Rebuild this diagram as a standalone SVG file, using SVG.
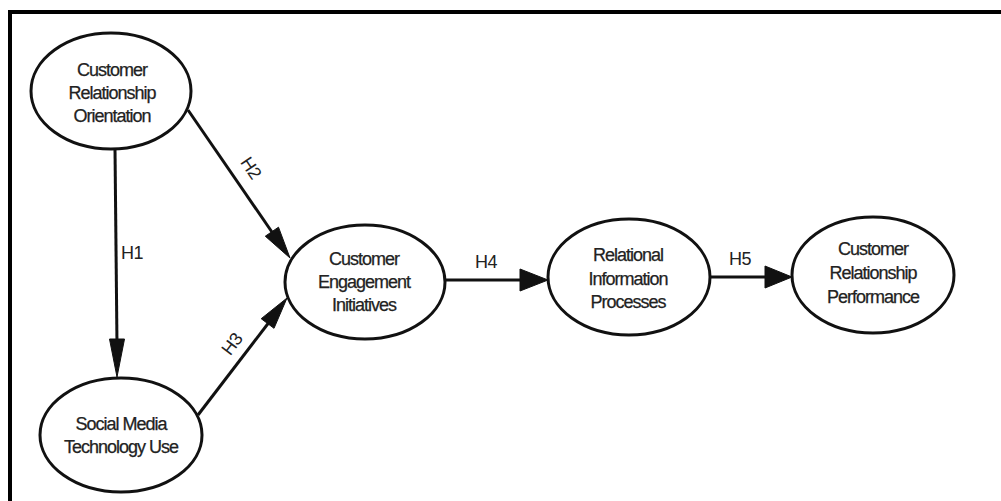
<svg xmlns="http://www.w3.org/2000/svg" width="1001" height="501" viewBox="0 0 1001 501">
  <style>
    .frame { fill: none; stroke: #000; stroke-width: 4; }
    .node ellipse { fill: #fff; stroke: #111; stroke-width: 3; }
    .node text { font-family: "Liberation Sans", Arial, sans-serif; font-size: 18px; letter-spacing: -1px; fill: #222; stroke: #222; stroke-width: 0.25; text-anchor: middle; }
    .edge line { stroke: #111; stroke-width: 3; }
    .edge polygon { fill: #111; stroke: #111; stroke-width: 1; stroke-linejoin: round; }
    .label { font-family: "Liberation Sans", Arial, sans-serif; font-size: 18px; letter-spacing: -0.5px; fill: #222; text-anchor: middle; }
  </style>

  <rect width="1001" height="501" fill="#fff"/>
  <!-- outer frame: top and left edges only -->
  <path class="frame" d="M10 501 V12 H1001"/>

  <!-- connectors -->
  <g id="connectors">
    <g id="e-h1" class="edge">
      <line x1="115" y1="149" x2="117" y2="345"/>
      <polygon points="117,377 109.5,339 124.5,339"/>
      <text class="label" x="132" y="259">H1</text>
    </g>
    <g id="e-h2" class="edge">
      <line x1="188" y1="110" x2="274" y2="235"/>
      <polygon points="290,258 265.3,236.2 278.5,227.2"/>
      <text class="label" transform="translate(251,168) rotate(56)" y="6">H2</text>
    </g>
    <g id="e-h3" class="edge">
      <line x1="198" y1="415" x2="270" y2="321"/>
      <polygon points="287,298 274,328.3 261.2,318.7"/>
      <text class="label" transform="translate(232,344) rotate(-53)" y="6">H3</text>
    </g>
    <g id="e-h4" class="edge">
      <line x1="446" y1="280" x2="524" y2="280"/>
      <polygon points="548,280 520,269 520,291"/>
      <text class="label" x="486" y="268">H4</text>
    </g>
    <g id="e-h5" class="edge">
      <line x1="710" y1="277" x2="768" y2="277"/>
      <polygon points="792,277 765,266 765,288"/>
      <text class="label" x="740" y="265">H5</text>
    </g>
  </g>

  <!-- nodes -->
  <g id="n-orientation" class="node">
    <ellipse cx="111" cy="91" rx="80" ry="58"/>
    <text x="112" y="76">Customer</text>
    <text x="112" y="99">Relationship</text>
    <text x="112" y="122">Orientation</text>
  </g>
  <g id="n-social" class="node">
    <ellipse cx="121" cy="435" rx="81" ry="57"/>
    <text x="121" y="430">Social Media</text>
    <text x="121" y="453">Technology Use</text>
  </g>
  <g id="n-engagement" class="node">
    <ellipse cx="365" cy="282" rx="80" ry="57"/>
    <text x="364" y="265">Customer</text>
    <text x="364" y="288">Engagement</text>
    <text x="364" y="311">Initiatives</text>
  </g>
  <g id="n-relational" class="node">
    <ellipse cx="629" cy="277" rx="81" ry="58"/>
    <text x="628" y="261">Relational</text>
    <text x="628" y="285">Information</text>
    <text x="628" y="308">Processes</text>
  </g>
  <g id="n-performance" class="node">
    <ellipse cx="873" cy="275" rx="81" ry="58"/>
    <text x="873" y="255">Customer</text>
    <text x="873" y="279">Relationship</text>
    <text x="873" y="303">Performance</text>
  </g>
</svg>
